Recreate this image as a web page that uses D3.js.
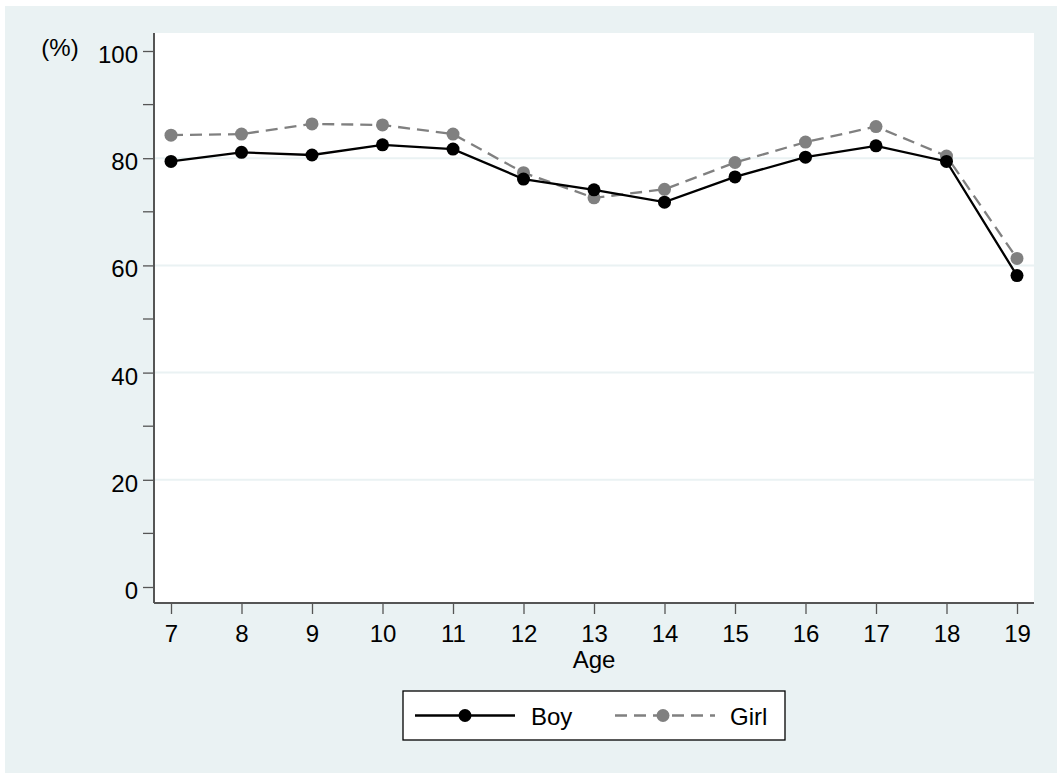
<!DOCTYPE html>
<html><head><meta charset="utf-8">
<script src="https://cdn.jsdelivr.net/npm/d3@7"></script>
<style>body{margin:0;background:#fff}svg{display:block}text{font-family:Arial,"Liberation Sans",sans-serif;fill:#000}</style>
</head><body>
<script>
const ages = [7,8,9,10,11,12,13,14,15,16,17,18,19];
const boy  = [79.4,81.1,80.6,82.5,81.7,76.1,74.1,71.8,76.5,80.2,82.3,79.4,58.1];
const girl = [84.3,84.5,86.4,86.2,84.5,77.3,72.6,74.2,79.2,83.0,85.9,80.4,61.3];
const yTicks = [0,20,40,60,80,100];
const yMinor = [10,30,50,70,90];
const gridVals = [20,40,60,80];
const seriesNames = ["Boy","Girl"];

const W=1057,H=773;
const svg=d3.select("body").append("svg").attr("width",W).attr("height",H);
svg.append("rect").attr("x",5).attr("y",6).attr("width",W-5).attr("height",H-6).attr("fill","#eaf2f3");
const L=154,R=1034,T=33,B=603;
svg.append("rect").attr("x",L).attr("y",T).attr("width",R-L).attr("height",B-T).attr("fill","#fff");

const x=d3.scaleLinear().domain([7,19]).range([171,1017]);
const y=d3.scaleLinear().domain([0,100]).range([587,51]);

// grid
svg.append("g").selectAll("line").data(gridVals).join("line")
  .attr("x1",L).attr("x2",R).attr("y1",d=>y(d)).attr("y2",d=>y(d))
  .attr("stroke","#eaf2f3").attr("stroke-width",2);

const fs=24, axc="#555", ff="Arial, Liberation Sans, sans-serif";
// y axis
const ya=svg.append("g").attr("transform",`translate(${L},0)`)
  .call(d3.axisLeft(y).tickValues(yTicks).tickSize(11).tickPadding(5).tickFormat(d3.format("d")));
ya.select(".domain").remove();
ya.selectAll("line").attr("stroke",axc).attr("stroke-width",1.3);
ya.selectAll("text").attr("font-size",fs).attr("font-family",ff).attr("fill","#000").attr("dy","0.48em");
svg.append("g").selectAll("line").data(yMinor).join("line")
  .attr("x1",L-11).attr("x2",L).attr("y1",d=>y(d)).attr("y2",d=>y(d)).attr("stroke",axc).attr("stroke-width",1.3);
svg.append("line").attr("x1",L).attr("x2",L).attr("y1",T).attr("y2",B).attr("stroke",axc).attr("stroke-width",2);

// x axis
const xa=svg.append("g").attr("transform",`translate(0,${B})`)
  .call(d3.axisBottom(x).tickValues(ages).tickSize(11).tickPadding(11).tickFormat(d3.format("d")));
xa.select(".domain").remove();
xa.selectAll("line").attr("stroke",axc).attr("stroke-width",1.3);
xa.selectAll("text").attr("font-size",fs).attr("font-family",ff).attr("fill","#000");
svg.append("line").attr("x1",L).attr("x2",R).attr("y1",B).attr("y2",B).attr("stroke",axc).attr("stroke-width",2);

svg.append("text").attr("x",594).attr("y",668).attr("text-anchor","middle").attr("font-size",fs).text("Age");
svg.append("text").attr("x",60).attr("y",56).attr("text-anchor","middle").attr("font-size",24).text("(%)");

const line=d3.line().x((d,i)=>x(ages[i])).y(d=>y(d));
// girl
svg.append("path").datum(girl).attr("d",line).attr("fill","none").attr("stroke","#808080").attr("stroke-width",2.3).attr("stroke-dasharray","12,7");
svg.append("g").selectAll("circle").data(girl).join("circle").attr("cx",(d,i)=>x(ages[i])).attr("cy",d=>y(d)).attr("r",6.5).attr("fill","#808080");
// boy
svg.append("path").datum(boy).attr("d",line).attr("fill","none").attr("stroke","#000").attr("stroke-width",2.3);
svg.append("g").selectAll("circle").data(boy).join("circle").attr("cx",(d,i)=>x(ages[i])).attr("cy",d=>y(d)).attr("r",6.5).attr("fill","#000");

// legend
const lg=svg.append("g");
lg.append("rect").attr("x",403).attr("y",691).attr("width",382).attr("height",49).attr("fill","#fff").attr("stroke","#000").attr("stroke-width",1.3);
const ly=715.5;
lg.append("line").attr("x1",415).attr("x2",515).attr("y1",ly).attr("y2",ly).attr("stroke","#000").attr("stroke-width",2.3);
lg.append("circle").attr("cx",465).attr("cy",ly).attr("r",6.5).attr("fill","#000");
lg.append("text").attr("x",531).attr("y",ly+9).attr("font-size",fs).text(seriesNames[0]);
lg.append("line").attr("x1",615).attr("x2",715).attr("y1",ly).attr("y2",ly).attr("stroke","#808080").attr("stroke-width",2.3).attr("stroke-dasharray","12,7");
lg.append("circle").attr("cx",663).attr("cy",ly).attr("r",6.5).attr("fill","#808080");
lg.append("text").attr("x",730).attr("y",ly+9).attr("font-size",fs).text(seriesNames[1]);
</script>
</body></html>
